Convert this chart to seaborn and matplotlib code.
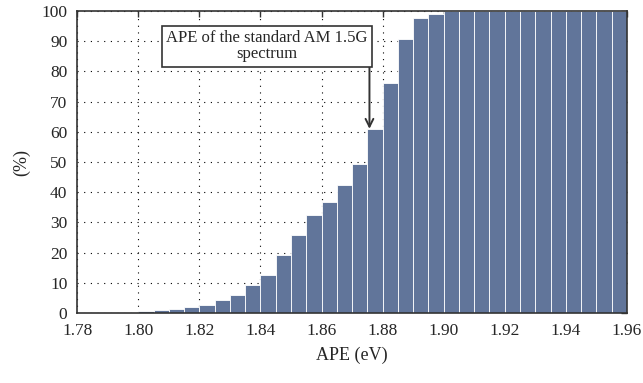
import numpy as np
import matplotlib
matplotlib.use("Agg")
import matplotlib.pyplot as plt
import seaborn as sns

# bin edges of the histogram (eV) and cumulative share (%)
bin_left = [1.800, 1.805, 1.810, 1.815, 1.820, 1.825, 1.830, 1.835,
            1.840, 1.845, 1.850, 1.855, 1.860, 1.865, 1.870, 1.875,
            1.880, 1.885, 1.890, 1.895, 1.900, 1.905, 1.910, 1.915,
            1.920, 1.925, 1.930, 1.935, 1.940, 1.945, 1.950, 1.955]
bin_width = 0.005
percent = [0.5, 0.9, 1.2, 1.9, 2.5, 4.2, 5.8, 9.1,
           12.7, 19.1, 25.9, 32.5, 36.6, 42.5, 49.4, 61.0,
           76.1, 90.8, 97.8, 99.1, 100, 100, 100, 100,
           100, 100, 100, 100, 100, 100, 100, 100]
x_ticks = [1.78, 1.80, 1.82, 1.84, 1.86, 1.88, 1.90, 1.92, 1.94, 1.96]
y_ticks = list(range(0, 101, 10))
ape_standard = 1.8757
note = "APE of the standard AM 1.5G\nspectrum"

sns.set_style("white")
plt.rcParams['font.family'] = ['Liberation Serif', 'DejaVu Serif']

fig = plt.figure(figsize=(6.43, 3.83), dpi=100)
ax = fig.add_axes([0.12, 0.183, 0.855, 0.788])

edges = bin_left + [bin_left[-1] + bin_width]
centers = [b + bin_width / 2 for b in bin_left]
sns.histplot(x=centers, weights=percent, bins=edges, ax=ax,
             color="#61759a", edgecolor="white", linewidth=0.6, alpha=1.0)

ax.set_xlim(1.78, 1.96)
ax.set_ylim(0, 100)
ax.set_xticks(x_ticks)
ax.set_xticklabels([f"{t:.2f}" for t in x_ticks])
ax.set_yticks(y_ticks)
ax.set_axisbelow(True)
ax.grid(True, color="black", linestyle=(0, (1, 5)), linewidth=0.8)
ax.tick_params(direction="in", top=True, right=True, length=4, width=1,
               labelsize=12.5, color="#333333", pad=7)
for s in ax.spines.values():
    s.set_color("#333333")
    s.set_linewidth(1.2)

ax.set_xlabel("APE (eV)", fontsize=13, labelpad=6)
ax.set_ylabel("(%)", fontsize=13, labelpad=8)

# arrow from the note box down to the standard spectrum value
ax.annotate("", xy=(ape_standard, 61.0), xytext=(ape_standard, 82.0),
            arrowprops=dict(arrowstyle="->", color="#333333", lw=1.4,
                            shrinkA=0, shrinkB=0, mutation_scale=14))
ax.text(1.8422, 88.3, note, ha="center", va="center", fontsize=12,
        linespacing=1.0,
        bbox=dict(boxstyle="square,pad=0.25", fc="white", ec="#333333", lw=1.2))

fig.savefig("out.png", dpi=100)
